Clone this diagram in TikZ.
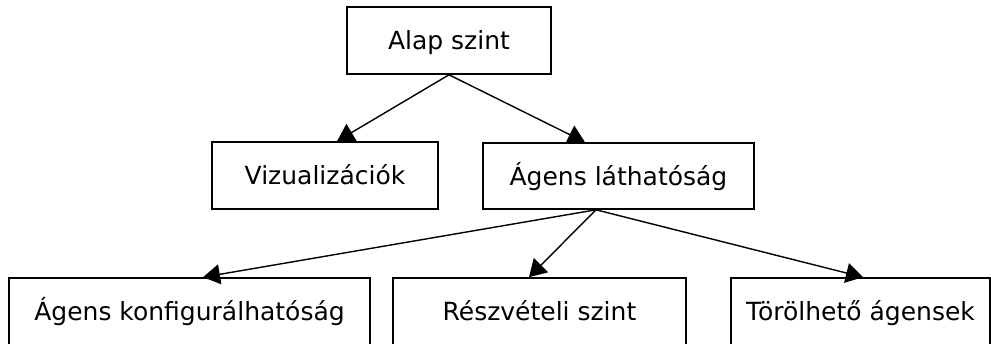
\documentclass[tikz,border=0pt]{standalone}
\usepackage{fontspec}
\setmainfont{DejaVu Sans}
\usetikzlibrary{arrows.meta}
\begin{document}
\begin{tikzpicture}[x=1pt,y=-1pt,
  box/.style={draw=black,line width=1.6pt,inner sep=0pt,text height=19pt,text depth=0pt,font=\fontsize{25}{28}\selectfont,anchor=center},
  conn/.style={line width=1.4pt,-{Triangle[length=17pt,width=20pt]}}]
\useasboundingbox (0,0) rectangle (991,344);
\node[box,minimum width=204pt,minimum height=67pt] (alap) at (449,40.5) {Alap szint};
\node[box,minimum width=226pt,minimum height=67pt] (viz) at (325,175.5) {Vizualizációk};
\node[box,minimum width=271pt,minimum height=66pt] (lath) at (618.5,176) {Ágens láthatóság};
\node[box,minimum width=361pt,minimum height=67pt] (konf) at (189.5,311.5) {Ágens konfigurálhatóság};
\node[box,minimum width=293pt,minimum height=67pt] (resz) at (539.5,311.5) {Részvételi szint};
\node[box,minimum width=259pt,minimum height=67pt] (torl) at (860.5,311.5) {Törölhető ágensek};
\coordinate (t1) at (337,142);
\coordinate (t2) at (585,142);
\coordinate (a2) at (596,209);
\coordinate (t3) at (203,278);
\coordinate (t4) at (529,278);
\coordinate (t5) at (863,278);
\draw[conn] (alap.south) -- (viz.north -| t1);
\draw[conn] (alap.south) -- (lath.north -| t2);
\draw[conn] (lath.south -| a2) -- (konf.north -| t3);
\draw[conn] (lath.south -| a2) -- (resz.north -| t4);
\draw[conn] (lath.south -| a2) -- (torl.north -| t5);
\end{tikzpicture}
\end{document}
